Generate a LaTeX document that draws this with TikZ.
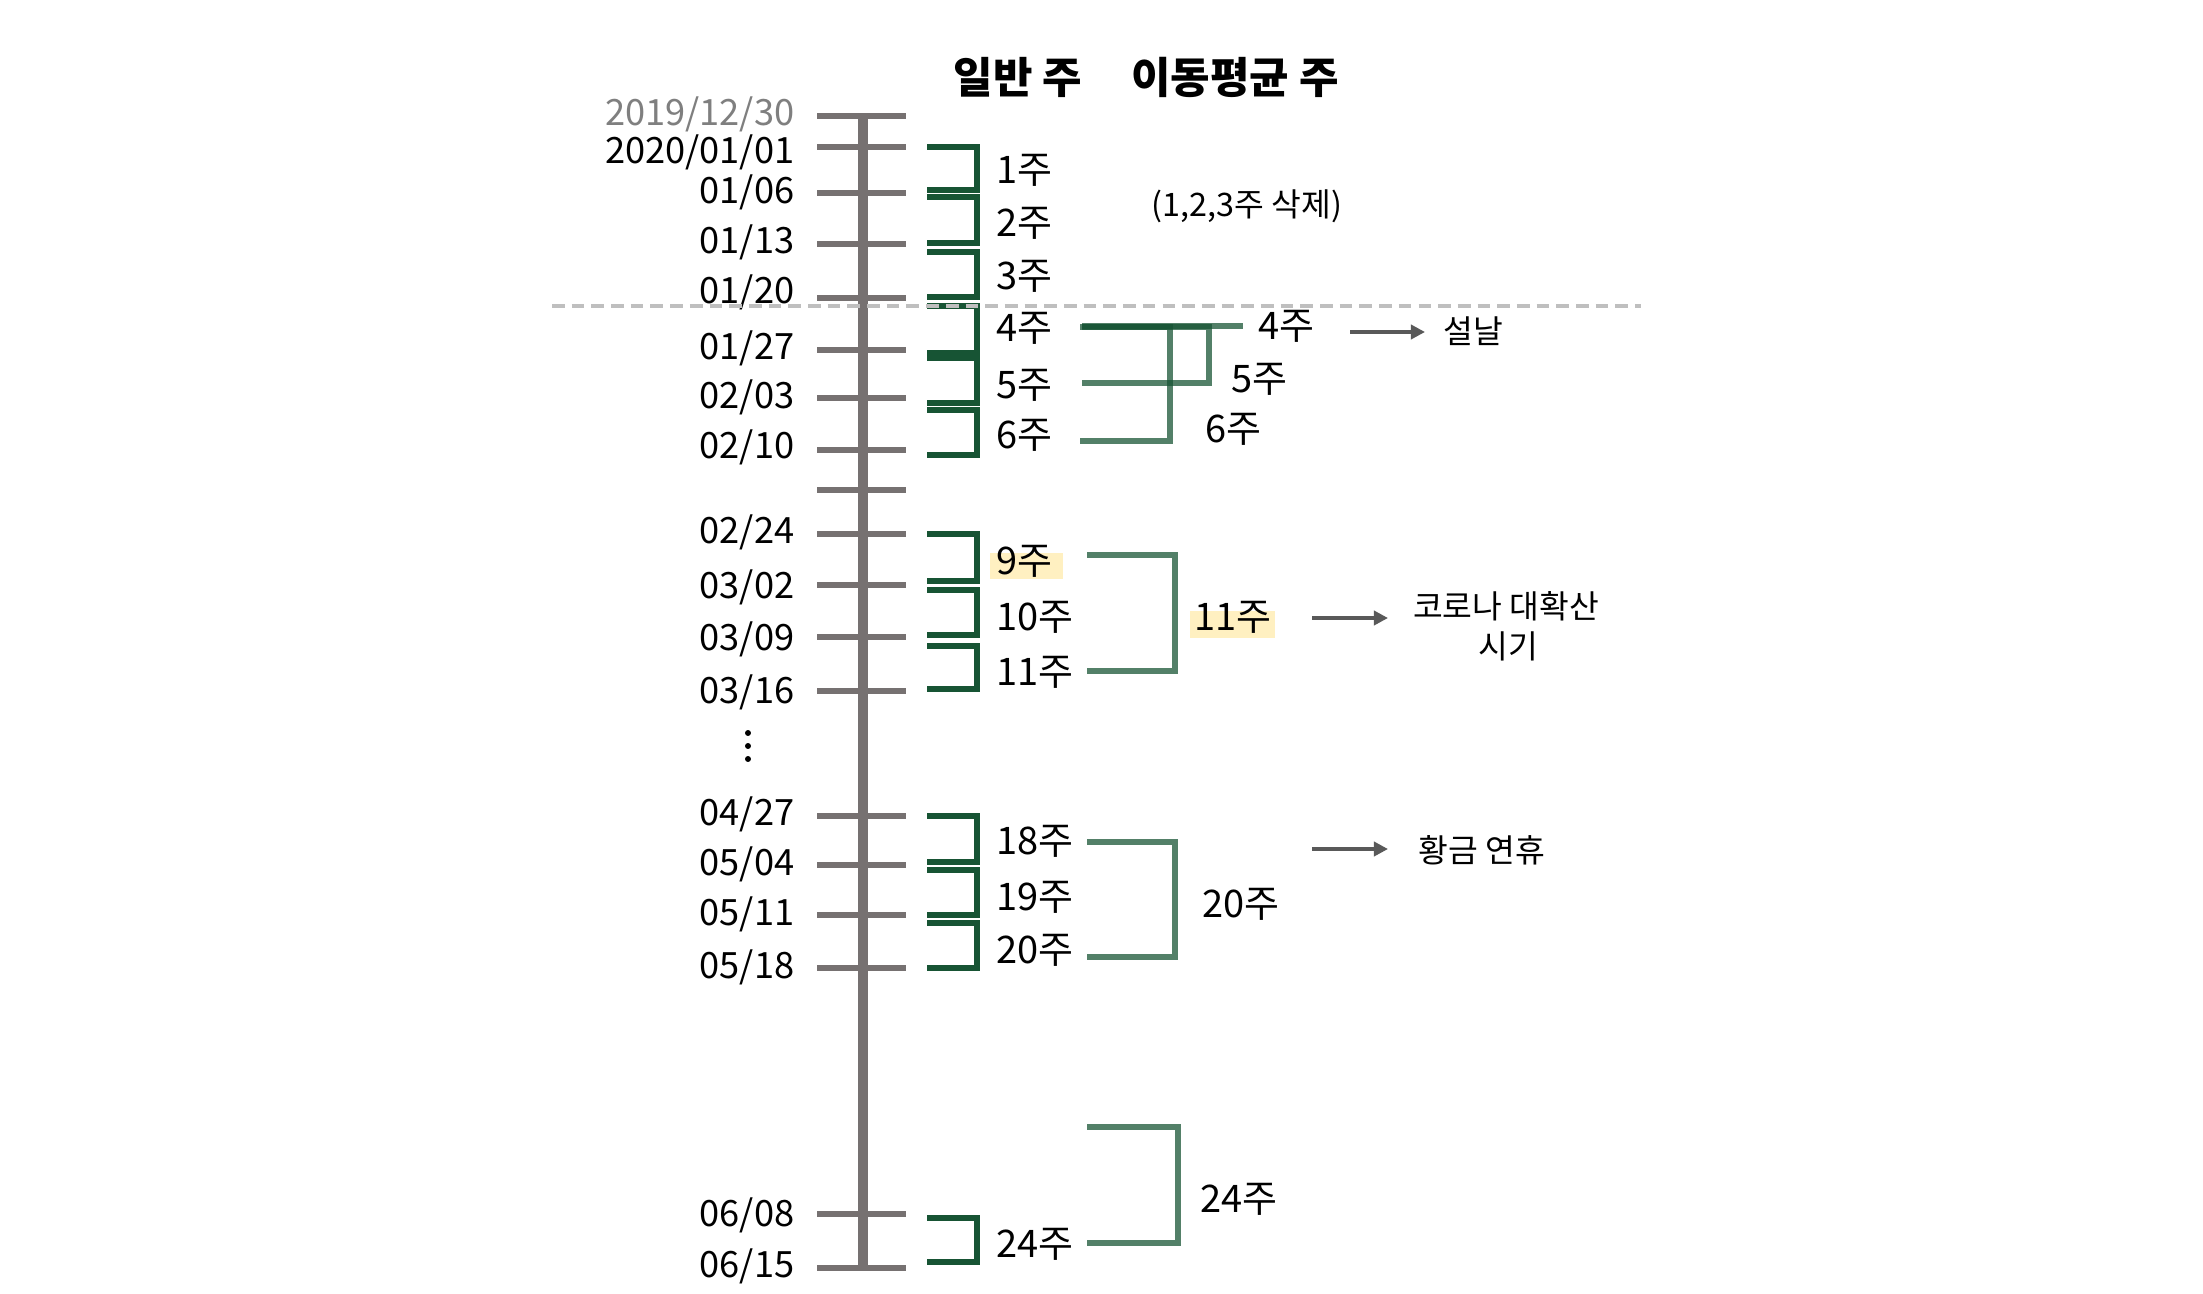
\documentclass[tikz,border=0pt]{standalone}
\usepackage{fontspec}
\setmainfont{Noto Sans CJK KR}
\usetikzlibrary{arrows.meta}
\definecolor{axisgray}{HTML}{767171}
\definecolor{dgreen}{HTML}{175434}
\definecolor{hlyellow}{HTML}{FFF0C1}
\definecolor{arrgray}{HTML}{595959}
\definecolor{dashgray}{HTML}{BFBFBF}
\definecolor{dategray}{HTML}{7F7F7F}
\begin{document}
\begin{tikzpicture}[x=0.01cm,y=-0.01cm,
  axisline/.style={draw=axisgray,line width=2.85pt},
  tickline/.style={draw=axisgray,line width=1.7pt},
  wkbr/.style={draw=dgreen,line width=1.7pt,line join=miter},
  mabr/.style={draw=dgreen,draw opacity=0.74,line width=1.8pt,line join=miter},
  datelab/.style={anchor=base east,inner sep=0pt,font=\fontsize{10.3}{12}\selectfont},
  wklab/.style={anchor=base west,inner sep=0pt,font=\fontsize{10.8}{12}\selectfont},
  titlelab/.style={anchor=base,inner sep=0pt,font=\fontsize{12.2}{14}\selectfont\bfseries},
  smalllab/.style={inner sep=0pt,font=\fontsize{9.2}{11}\selectfont},
  arr/.style={draw=arrgray,line width=1.4pt,-{Triangle[length=4pt,width=4pt]}},
  hlbox/.style={fill=hlyellow,draw=none}
]
\useasboundingbox (0,0) rectangle (2203,1294);
\fill[white] (0,0) rectangle (2203,1294);

% highlights
\fill[hlyellow] (990,553) rectangle (1063,579);
\fill[hlyellow] (1190,611) rectangle (1275,638);

% axis
\draw[axisline] (863,116) -- (863,1268);
\foreach \yy in {116,147,193,244,298,350,398,450,490,534,585,637,691,816,865,915,968,1214,1268}
  \draw[tickline] (817,\yy) -- (906,\yy);

% date labels
\node[datelab,text=dategray] (d0) at (795,126) {2019/12/30};
\node[datelab] (d1) at (795,163) {2020/01/01};
\node[datelab] (d2) at (795,203) {01/06};
\node[datelab] (d3) at (795,253) {01/13};
\node[datelab] (d4) at (795,303) {01/20};
\node[datelab] (d5) at (795,360) {01/27};
\node[datelab] (d6) at (795,408) {02/03};
\node[datelab] (d7) at (795,458) {02/10};
\node[datelab] (d8) at (795,543) {02/24};
\node[datelab] (d9) at (795,598) {03/02};
\node[datelab] (d10) at (795,650) {03/09};
\node[datelab] (d11) at (795,703) {03/16};
\node[datelab] (d12) at (795,825) {04/27};
\node[datelab] (d13) at (795,875) {05/04};
\node[datelab] (d14) at (795,925) {05/11};
\node[datelab] (d15) at (795,978) {05/18};
\node[datelab] (d16) at (795,1226) {06/08};
\node[datelab] (d17) at (795,1277) {06/15};

% vertical dots
\fill (748,733) circle[radius=0.85pt];
\fill (748,746) circle[radius=0.85pt];
\fill (748,759) circle[radius=0.85pt];

% weekly brackets
\foreach \tp/\bt in {147/190,197/243,252/297,306/353,358/403,410/455,534/581,590/635,646/689,816/862,870/915,923/968,1218/1262}
  \draw[wkbr] (927,\tp) -- (977,\tp) -- (977,\bt) -- (927,\bt);

% weekly labels
\node[wklab] (w1) at (996,184) {1주};
\node[wklab] (w2) at (996,236) {2주};
\node[wklab] (w3) at (996,289) {3주};
\node[wklab] (w4) at (996,341) {4주};
\node[wklab] (w5) at (996,398) {5주};
\node[wklab] (w6) at (996,448) {6주};
\node[wklab] (w9) at (996,574) {9주};
\node[wklab] (w10) at (996,630) {10주};
\node[wklab] (w11) at (996,685) {11주};
\node[wklab] (w18) at (996,854) {18주};
\node[wklab] (w19) at (996,910) {19주};
\node[wklab] (w20) at (996,963) {20주};
\node[wklab] (w24) at (996,1257) {24주};

% moving-average brackets
\draw[mabr] (1082,326) -- (1243,326);
\draw[mabr] (1082,327) -- (1209,327) -- (1209,383) -- (1082,383);
\draw[mabr] (1080,327) -- (1170,327) -- (1170,441) -- (1080,441);
\draw[mabr] (1087,555) -- (1175,555) -- (1175,671) -- (1087,671);
\draw[mabr] (1087,842) -- (1175,842) -- (1175,957) -- (1087,957);
\draw[mabr] (1087,1127) -- (1178,1127) -- (1178,1243) -- (1087,1243);

% moving-average labels
\node[wklab] (m4) at (1258,340) {4주};
\node[wklab] (m5) at (1231,392) {5주};
\node[wklab] (m6) at (1205,442) {6주};
\node[wklab] (m11) at (1194,630) {11주};
\node[wklab] (m20) at (1202,917) {20주};
\node[wklab] (m24) at (1200,1212) {24주};

% dashed separator
\draw[dashgray,line width=1.15pt,dash pattern=on 3.6pt off 2pt] (552,306) -- (1641,306);

% titles
\node[titlelab] (t1) at (1018,94) {일반 주};
\node[titlelab] (t2) at (1235,94) {이동평균 주};
\node[smalllab,anchor=base] (del) at (1247,217) {(1,2,3주 삭제)};

% annotations
\node[smalllab,anchor=base west] (seol) at (1443,343) {설날};
\node[smalllab,anchor=base] (corona1) at (1506,618) {코로나 대확산};
\node[smalllab,anchor=base] (corona2) at (1508,658) {시기};
\node[smalllab,anchor=base west] (golden) at (1418,862) {황금 연휴};

\coordinate (a1s) at (1350,332);
\coordinate (a1e) at (1425,332);
\coordinate (a2s) at (1312,618);
\coordinate (a2e) at (1388,618);
\coordinate (a3s) at (1312,849);
\coordinate (a3e) at (1388,849);
\draw[arr] (a1s) -- (a1e);
\draw[arr] (a2s) -- (a2e);
\draw[arr] (a3s) -- (a3e);
\end{tikzpicture}
\end{document}
